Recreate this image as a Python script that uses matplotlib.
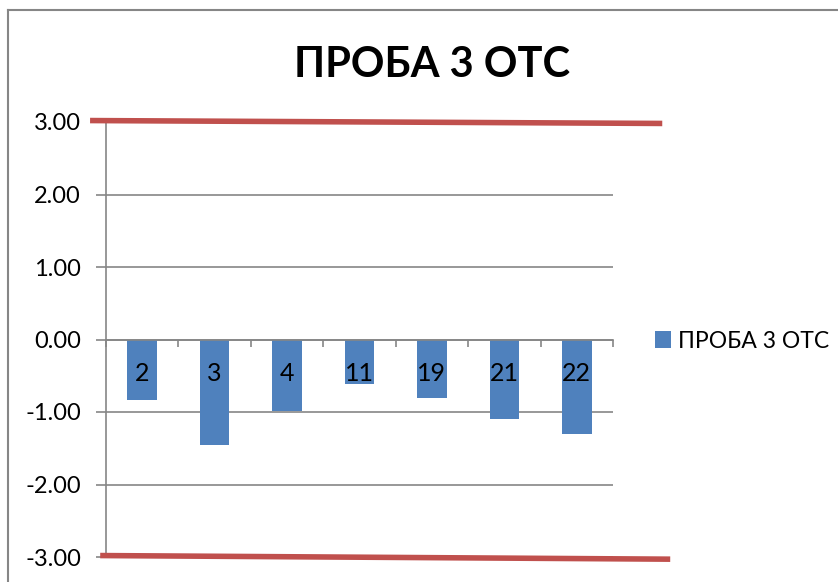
import numpy as np
import matplotlib.pyplot as plt
from matplotlib.lines import Line2D

plt.rcParams['font.family'] = ['Lato', 'Open Sans', 'DejaVu Sans']

# Data
categories = ['2', '3', '4', '11', '19', '21', '22']
values = [-0.83, -1.45, -0.99, -0.62, -0.80, -1.09, -1.30]
series_name = 'ПРОБА 3 ОТС'
limit = 3.0

bar_color = '#4F81BD'
line_color = '#C0504D'
grid_color = '#868686'

fig = plt.figure(figsize=(8.38, 5.82), dpi=100)
W, H = 838, 582

# plot area in pixels: x 106..613, y 122..557
ax = fig.add_axes([106 / W, 1 - 557 / H, (613 - 106) / W, (557 - 122) / H])

x = np.arange(len(categories))
bars = ax.bar(x, values, width=0.41, color=bar_color, zorder=2, label=series_name)

ax.set_xlim(-0.5, len(categories) - 0.5)
ax.set_ylim(-3, 3)
ax.set_yticks(np.arange(-3, 4, 1))
ax.set_yticklabels([f'{v:.2f}' for v in np.arange(-3, 4, 1)], fontsize=17)
ax.yaxis.grid(True, color=grid_color, linewidth=1.2, zorder=0)
ax.tick_params(axis='y', length=7, width=1.2, color=grid_color, pad=11)

# category axis sits at zero, tick marks between categories
for side in ['top', 'right']:
    ax.spines[side].set_visible(False)
ax.spines['bottom'].set_position(('data', 0))
ax.spines['bottom'].set_color(grid_color)
ax.spines['bottom'].set_linewidth(1.2)
ax.spines['left'].set_color(grid_color)
ax.spines['left'].set_linewidth(1.2)
ax.set_xticks(np.arange(-0.5, len(categories), 1.0))
ax.set_xticklabels([])
ax.tick_params(axis='x', direction='out', length=5, width=1.2, color=grid_color)

for xi, cat in zip(x, categories):
    ax.annotate(cat, (xi, 0), xytext=(0, -34), textcoords='offset pixels',
                ha='center', va='center', fontsize=18, zorder=3)

# control limits at +/-3, running past the plot area
ax.plot([-0.72, 7.18], [limit + 0.02, limit - 0.02], color=line_color,
        linewidth=4, solid_capstyle='butt', clip_on=False, zorder=4)
ax.plot([-0.58, 7.29], [-limit + 0.02, -limit - 0.03], color=line_color,
        linewidth=4, solid_capstyle='butt', clip_on=False, zorder=4)

fig.text(432 / W, 1 - 65 / H, series_name, ha='center', va='center',
         fontsize=30, fontweight='bold')

fig.legend(handles=[bars], loc='center left', bbox_to_anchor=(655 / W, 1 - 341 / H),
           frameon=False, fontsize=16.5, handlelength=0.7, handleheight=0.7,
           handletextpad=0.3, borderaxespad=0, borderpad=0)

# chart frame
fig.add_artist(Line2D([8 / W, 8 / W], [0, 1 - 10 / H], color=grid_color, linewidth=1.5))
fig.add_artist(Line2D([8 / W, 1], [1 - 10 / H, 1 - 10 / H], color=grid_color, linewidth=1.5))

fig.savefig('out.png', dpi=100)
